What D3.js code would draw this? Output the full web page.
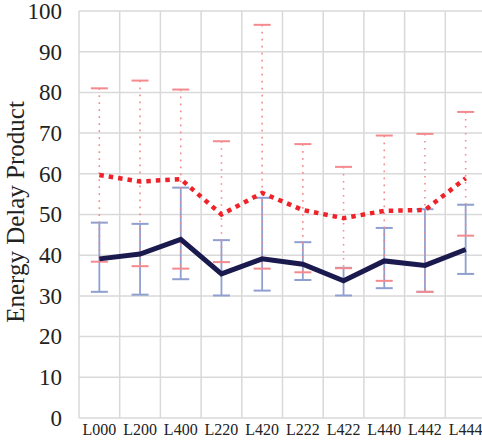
<!DOCTYPE html>
<html lang="en">
<head>
<meta charset="UTF-8">
<title>Energy Delay Product</title>
<script src="https://d3js.org/d3.v7.min.js"></script>
<style>
  body { margin: 0; background: #fff; }
  text { font-family: "Liberation Serif", "DejaVu Serif", serif; fill: #222; }
  .grid line { stroke: #d9d9d9; stroke-width: 1.5px; }
</style>
</head>
<body>
<svg id="chart" width="482" height="442"></svg>
<script>
// categories and series
const categories = ["L000", "L200", "L400", "L220", "L420", "L222", "L422", "L440", "L442", "L444"];

// solid navy series
const solidMean = [39.1, 40.3, 43.9, 35.4, 39.1, 37.8, 33.7, 38.6, 37.5, 41.4];
const solidHigh = [48.0, 47.7, 56.6, 43.7, 54.1, 43.2, 36.9, 46.7, 51.3, 52.4];
const solidLow  = [31.0, 30.3, 34.1, 30.1, 31.3, 33.9, 30.1, 31.9, 31.0, 35.4];

// dotted red series
const dotMean = [59.7, 58.1, 58.7, 50.0, 55.3, 51.1, 49.1, 50.9, 51.1, 58.9];
const dotHigh = [81.0, 82.9, 80.7, 68.0, 96.6, 67.3, 61.7, 69.4, 69.8, 75.2];
const dotLow  = [38.4, 37.3, 36.7, 38.3, 36.7, 35.8, 36.8, 33.7, 31.0, 44.8];

const yTicks = [0, 10, 20, 30, 40, 50, 60, 70, 80, 90, 100];

const svg = d3.select("#chart");
const plotL = 79, plotR = 486, plotT = 11, plotB = 418;

const x = d3.scaleBand().domain(categories).range([plotL, plotR]).padding(0);
const y = d3.scaleLinear().domain([0, 100]).range([plotB, plotT]);

// grid
const grid = svg.append("g").attr("class", "grid");
grid.selectAll("line.h").data(yTicks).join("line")
  .attr("class", "h")
  .attr("x1", plotL).attr("x2", plotR)
  .attr("y1", d => y(d)).attr("y2", d => y(d));
grid.selectAll("line.v").data(categories.map(c => x(c)).concat([plotR])).join("line")
  .attr("class", "v")
  .attr("x1", d => d).attr("x2", d => d)
  .attr("y1", plotT).attr("y2", plotB);

// y axis labels
const yAxis = d3.axisLeft(y).tickValues(yTicks).tickSize(0).tickPadding(17);
const ya = svg.append("g").attr("transform", `translate(${plotL},0)`).call(yAxis);
ya.select(".domain").remove();
ya.selectAll("text").style("font-size", "23px").style("font-family", "Liberation Serif").attr("fill", "#222");

// x axis labels
const xAxis = d3.axisBottom(x).tickSize(0).tickPadding(6);
const xa = svg.append("g").attr("transform", `translate(0,${plotB})`).call(xAxis);
xa.select(".domain").remove();
xa.selectAll("text").style("font-size", "16px").style("font-family", "Liberation Serif").attr("fill", "#222");

// axis title
svg.append("text")
  .attr("transform", `translate(23.5,212) rotate(-90)`)
  .attr("text-anchor", "middle")
  .style("font-size", "25px")
  .text("Energy Delay Product");

const cx = d => x(d) + x.bandwidth() / 2;
const capW = 8.5;

function errorBars(high, low, color, dash) {
  const g = svg.append("g");
  const rows = categories.map((c, i) => ({ c, hi: high[i], lo: low[i] }));
  g.selectAll("line.stem").data(rows).join("line")
    .attr("class", "stem")
    .attr("x1", d => cx(d.c)).attr("x2", d => cx(d.c))
    .attr("y1", d => y(d.hi)).attr("y2", d => y(d.lo))
    .attr("stroke", color).attr("stroke-width", dash ? 1.6 : 1.8)
    .attr("stroke-dasharray", dash || null);
  ["hi", "lo"].forEach(k => {
    g.selectAll("line.cap" + k).data(rows).join("line")
      .attr("class", "cap" + k)
      .attr("x1", d => cx(d.c) - capW).attr("x2", d => cx(d.c) + capW)
      .attr("y1", d => y(d[k])).attr("y2", d => y(d[k]))
      .attr("stroke", color).attr("stroke-width", 2);
  });
}

errorBars(solidHigh, solidLow, "#8f9fd0", null);
errorBars(dotHigh, dotLow, "#f48a8e", "1.6,5.4");

const line = d3.line().x((d, i) => cx(categories[i])).y(d => y(d));

svg.append("path").datum(solidMean)
  .attr("d", line).attr("fill", "none")
  .attr("stroke", "#1b1a4f").attr("stroke-width", 5)
  .attr("stroke-linejoin", "miter");

svg.append("path").datum(dotMean)
  .attr("d", line).attr("fill", "none")
  .attr("stroke", "#ee2228").attr("stroke-width", 4.5)
  .attr("stroke-dasharray", "4.5,5");
</script>
</body>
</html>
